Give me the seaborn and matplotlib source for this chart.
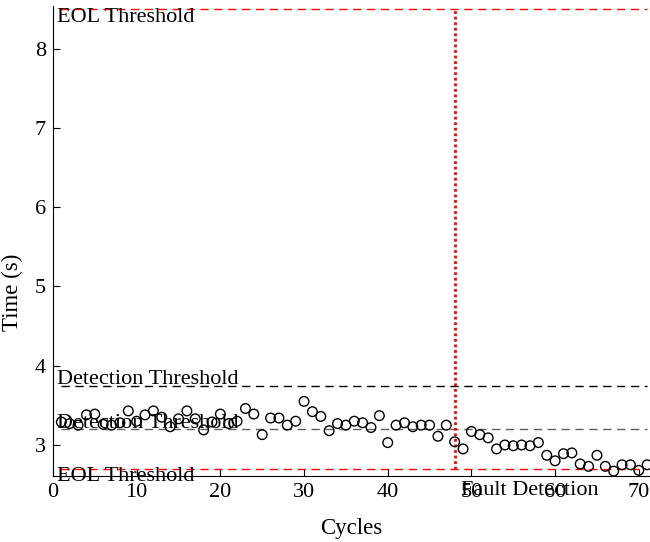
import matplotlib
matplotlib.use("Agg")
import matplotlib.pyplot as plt
import seaborn as sns
import pandas as pd

cycles = list(range(1, 72))
times = [3.29, 3.27, 3.25, 3.38, 3.39, 3.26, 3.25, 3.28, 3.43, 3.30,
         3.38, 3.43, 3.35, 3.23, 3.33, 3.43, 3.33, 3.19, 3.29, 3.39,
         3.27, 3.30, 3.46, 3.39, 3.13, 3.34, 3.34, 3.25, 3.30, 3.55,
         3.42, 3.36, 3.18, 3.27, 3.25, 3.30, 3.28, 3.22, 3.37, 3.03,
         3.25, 3.28, 3.23, 3.25, 3.25, 3.11, 3.25, 3.04, 2.95, 3.17,
         3.13, 3.09, 2.95, 3.00, 2.99, 3.00, 2.99, 3.03, 2.87, 2.80,
         2.89, 2.90, 2.76, 2.73, 2.87, 2.73, 2.67, 2.75, 2.75, 2.68,
         2.75]

eol_upper = 8.5
eol_lower = 2.7
det_upper = 3.75
det_lower = 3.2
fault_cycle = 48
x_ticks = [0, 10, 20, 30, 40, 50, 60, 70]
y_ticks = [3, 4, 5, 6, 7, 8]

df = pd.DataFrame({"Cycles": cycles, "Time": times})

sns.set_style("ticks", {"axes.edgecolor": "black", "text.color": "black",
                        "axes.labelcolor": "black", "xtick.color": "black",
                        "ytick.color": "black"})
plt.rcParams['font.family'] = ['Liberation Serif', 'DejaVu Serif']
plt.rcParams['mathtext.fontset'] = 'stix'

fig = plt.figure(figsize=(6.5, 5.42), dpi=100)
ax = fig.add_axes([0.0815, 0.122, 0.918, 0.867])

sns.scatterplot(data=df, x="Cycles", y="Time", ax=ax, marker='o',
                facecolor='none', edgecolor='black', linewidth=1.0, s=48, zorder=3)

x0, x1 = cycles[0], cycles[-1]
dash = (0, (6, 4))
ax.plot([x0, x1], [eol_upper, eol_upper], color='red', lw=1.0, linestyle=dash, zorder=2)
ax.plot([x0, x1], [eol_lower, eol_lower], color='red', lw=1.0, linestyle=dash, zorder=2)
ax.plot([x0, x1], [det_upper, det_upper], color='black', lw=1.0, linestyle=dash, zorder=2)
ax.plot([x0, x1], [det_lower, det_lower], color='#606060', lw=1.0, linestyle=dash, zorder=2)
ax.plot([fault_cycle, fault_cycle], [eol_lower, eol_upper], color='red', lw=2.0,
        linestyle=(0, (1, 1)), zorder=2)

fs = 16
ax.text(0.5, 8.39, "EOL Threshold", fontsize=fs, va='center', ha='left', color='black')
ax.text(0.5, 3.83, "Detection Threshold", fontsize=fs, va='center', ha='left', color='black')
ax.text(0.5, 3.27, "Detection Threshold", fontsize=fs, va='center', ha='left', color='black')
ax.text(0.5, 2.60, "EOL Threshold", fontsize=fs, va='center', ha='left', clip_on=False, color='black')
ax.text(48.8, 2.43, "Fault Detection", fontsize=fs, va='center', ha='left', clip_on=False, color='black')

ax.set_xlim(0, 71.3)
ax.set_ylim(2.61, 8.54)
ax.set_xticks(x_ticks)
ax.set_yticks(y_ticks)
ax.tick_params(direction='in', length=5, width=0.8, labelsize=16, pad=5,
               colors='black')
ax.set_xlabel("Cycles", fontsize=16.5, labelpad=12, color='black')
ax.set_ylabel("Time (s)", fontsize=16.5, color='black')
ax.yaxis.set_label_coords(-0.050, 0.39)
sns.despine(ax=ax)
for s in ['left', 'bottom']:
    ax.spines[s].set_linewidth(0.8)
    ax.spines[s].set_color('black')

fig.savefig("out.png", dpi=100)
